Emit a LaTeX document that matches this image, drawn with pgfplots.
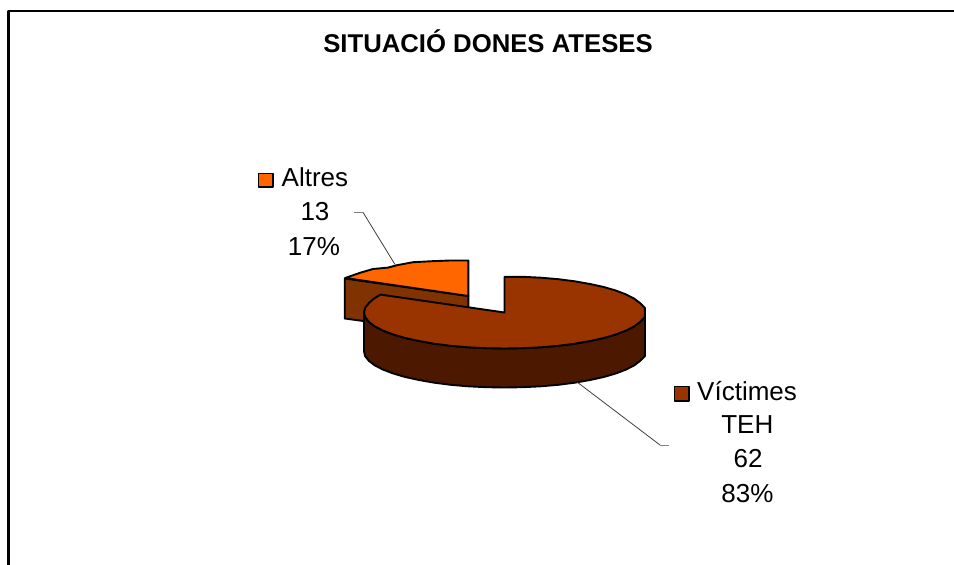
\documentclass[border=0pt]{standalone}
\usepackage{fontspec}
\setmainfont{Liberation Sans}
\usepackage{pgfplots}
\pgfplotsset{compat=1.18}
\definecolor{topbrown}{HTML}{993300}
\definecolor{sidebrown}{HTML}{4C1900}
\definecolor{wallbrown}{HTML}{803300}
\definecolor{orangeslice}{HTML}{FF6600}
\newcommand{\lab}{\fontsize{26}{30}\selectfont}
\begin{document}
\begin{tikzpicture}
\begin{axis}[
  scale only axis, width=954pt, height=565pt,
  xmin=0, xmax=954, ymin=0, ymax=565, y dir=reverse,
  hide axis, clip=true,
  every axis plot/.append style={line join=round, mark=none},
]
% page background
\addplot[fill=white, draw=none] coordinates {(0,0) (954,0) (954,565) (0,565)} --cycle;
% frame of the chart
\addplot[black, line width=2.4pt] coordinates {(8.6,565) (8.6,11.2) (954,11.2)};

% Altres: cut wall
\addplot[fill=wallbrown, draw=black, line width=1.9pt] coordinates
 {(468.3,296) (468.3,335) (344.7,318.5) (344.7,278.5)} --cycle;
% Altres: top face
\addplot[fill=orangeslice, draw=black, line width=1.9pt] coordinates
 {(468.3,296) (468.3,260.5) (450.1,260.5) (432.0,261.2) (413,262.2) (397,265.2)
  (388,267.6) (373,269) (360,272.8) (345.2,278)} --cycle;

% Victimes TEH: side
\addplot[fill=sidebrown, draw=black, line width=1.9pt] coordinates
 {(645,312.5) (644.8,317.2) (640.2,321.8) (634.3,326.3) (626.2,330.5) (616,334.4)
  (603.8,338) (590,341) (574.75,343.7) (558.3,345.8) (540.9,347.3) (522.8,348.2)
  (504.5,348.5) (486.2,348.2) (468.1,347.3) (450.7,345.8) (434.25,343.7) (419,341)
  (405.2,338) (393,334.4) (382.8,330.5) (374.7,326.3) (368.8,321.8) (365.2,317.2)
  (364,312.5) (364,351.5) (365.2,356.2) (368.8,360.8) (374.7,365.3) (382.8,369.5)
  (393,373.4) (405.2,377) (419,380) (434.25,382.7) (450.7,384.8) (468.1,386.3)
  (486.2,387.2) (504.5,387.5) (522.8,387.2) (540.9,386.3) (558.3,384.8) (574.75,382.7)
  (590,380) (603.8,377) (616,373.4) (626.2,369.5) (634.3,365.3) (640.2,360.8)
  (644.8,356.2) (645,351.5)} --cycle;
% Victimes TEH: top face
\addplot[fill=topbrown, draw=black, line width=1.9pt] coordinates
 {(504.5,312.5) (504.5,276.8) (522.8,276.8) (540.9,277.7) (558.3,279.2) (574.75,281.3)
  (590,284) (603.8,287) (616,290.6) (626.2,294.5) (634.3,298.7) (640.2,303.2)
  (644.8,307.8) (645,312.5) (644.8,317.2) (640.2,321.8) (634.3,326.3) (626.2,330.5)
  (616,334.4) (603.8,338) (590,341) (574.75,343.7) (558.3,345.8) (540.9,347.3)
  (522.8,348.2) (504.5,348.5) (486.2,348.2) (468.1,347.3) (450.7,345.8) (434.25,343.7)
  (419,341) (405.2,338) (393,334.4) (382.8,330.5) (374.7,326.3) (368.8,321.8)
  (365.2,317.2) (364,312.5) (365.2,307.8) (368.8,303.2) (374,298.5) (380.5,294.6)} --cycle;

% leader lines
\addplot[black!75, line width=0.8pt] coordinates {(363,212.3) (395,264.5)};
\addplot[black!50, line width=0.9pt] coordinates {(354,212.3) (363,212.3)};
\addplot[black!75, line width=0.8pt] coordinates {(577,382) (660,445)};
\addplot[black!50, line width=0.9pt] coordinates {(660,445) (669,445)};

% legend keys beside the labels
\addplot[fill=orangeslice, draw=black, line width=1.6pt] coordinates
 {(258.6,173.6) (273,173.6) (273,187) (258.6,187)} --cycle;
\addplot[fill=topbrown, draw=black, line width=1.6pt] coordinates
 {(674.5,386.5) (688.7,386.5) (688.7,401) (674.5,401)} --cycle;

% title
\node[anchor=base, inner sep=0pt, font=\fontsize{25.7}{30}\selectfont\bfseries] at (axis cs:488,52.3) {SITUACIÓ DONES ATESES};

% labels
\node[anchor=base west, inner sep=0pt, font=\lab] at (axis cs:281.5,186) {Altres};
\node[anchor=base, inner sep=0pt, font=\lab] at (axis cs:315,220) {13};
\node[anchor=base, inner sep=0pt, font=\lab] at (axis cs:314,255) {17\%};
\node[anchor=base west, inner sep=0pt, font=\lab] at (axis cs:697,400.7) {Víctimes};
\node[anchor=base, inner sep=0pt, font=\lab] at (axis cs:747.3,433.5) {TEH};
\node[anchor=base, inner sep=0pt, font=\lab] at (axis cs:748,467.7) {62};
\node[anchor=base, inner sep=0pt, font=\lab] at (axis cs:747.5,502.3) {83\%};
\end{axis}
\end{tikzpicture}
\end{document}
